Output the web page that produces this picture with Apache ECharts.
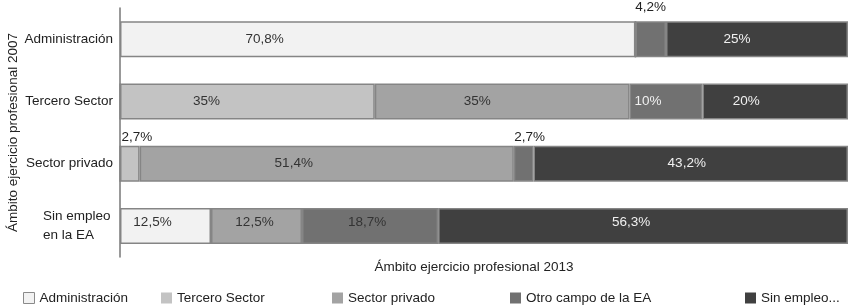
<!DOCTYPE html>
<html>
<head>
<meta charset="utf-8">
<script src="https://cdn.jsdelivr.net/npm/echarts@6/dist/echarts.min.js"></script>
<style>
  html, body { margin: 0; padding: 0; background: #fff; }
  #chart { width: 850px; height: 306px; }
</style>
</head>
<body>
<div id="chart"></div>
<script>
const FONT = '"Liberation Sans", Arial, sans-serif'
const FS = 13.5

// rows (ámbito 2007)
const categories = ['Administración', 'Tercero Sector', 'Sector privado', 'Sin empleo\nen la EA']
// segments (ámbito 2013)
const seriesNames = ['Administración', 'Tercero Sector', 'Sector privado', 'Otro campo de la EA', 'Sin empleo...']
const administracion = [70.8, 0, 0, 12.5]
const terceroSector = [0, 35, 2.7, 0]
const sectorPrivado = [0, 35, 51.4, 12.5]
const otroCampo = [4.2, 10, 2.7, 18.7]
const sinEmpleo = [25, 20, 43.2, 56.3]
const values = [administracion, terceroSector, sectorPrivado, otroCampo, sinEmpleo]

const COLORS = ['#f2f2f2', '#c3c3c3', '#a3a3a3', '#717171', '#404040']
const LABEL_COLORS = ['#333', '#333', '#333', '#333', '#f0f0f0']
const legendLeft = [23, 161, 332, 510, 745]

// label placement tweaks, [series][row] -> [dx, dy] or 'top:<distance>:<dx>'
const labelShift = [
  [[-113, 0], null, null, [-13, -4]],
  [null, [-41, 0], 'top:1:7', null],
  [null, [-25, 0], [-33, 0], [-2, -4]],
  ['top:7:0', [-18, 0], 'top:1:6', [-3, -4]],
  [[-20, 0], [-29, 0], [-4, 0], [-12, -4]]
]

const series = values.map((vals, s) => ({
  name: seriesNames[s],
  type: 'bar',
  stack: 'total',
  barWidth: 36,
  itemStyle: { color: COLORS[s], borderColor: '#858585', borderWidth: 1.5 },
  emphasis: { disabled: true },
  label: {
    show: true,
    position: 'inside',
    fontFamily: FONT,
    fontSize: FS,
    color: LABEL_COLORS[s],
    formatter: p => String(p.value).replace('.', ',') + '%'
  },
  data: vals.map((v, r) => {
    if (!v) return { value: v, label: { show: false } }
    const t = labelShift[s][r]
    if (typeof t === 'string') {
      const [, dist, dx] = t.split(':')
      return { value: v, label: { position: 'top', distance: +dist, offset: [+dx, 0], color: '#222' } }
    }
    // light text on the 10% segment
    const extra = (s === 3 && r === 1) ? { color: '#f0f0f0' } : {}
    if (t) return { value: v, label: Object.assign({ offset: t }, extra) }
    return v
  })
}))

const legends = seriesNames.map((n, i) => ({
  left: legendLeft[i],
  top: 291,
  padding: 0,
  itemWidth: 11,
  itemHeight: 11,
  itemGap: 0,
  icon: 'rect',
  selectedMode: false,
  textStyle: { fontFamily: FONT, fontSize: FS, color: '#222' },
  data: [{
    name: n,
    itemStyle: i === 0 ? { borderColor: '#8a8a8a', borderWidth: 1 } : { borderWidth: 0 }
  }]
}))

const chart = echarts.init(document.getElementById('chart'))
chart.setOption({
  animation: false,
  legend: legends,
  grid: { left: 120, right: 2, top: 8, bottom: 49, outerBoundsMode: 'none', containLabel: false },
  xAxis: {
    type: 'value',
    min: 0,
    max: 100,
    axisLine: { show: false },
    axisTick: { show: false },
    axisLabel: { show: false },
    splitLine: { show: false },
    name: 'Ámbito ejercicio profesional 2013',
    nameLocation: 'middle',
    nameGap: 3,
    nameTextStyle: { fontFamily: FONT, fontSize: FS, color: '#222', verticalAlign: 'top', padding: [0, 20, 0, 0] }
  },
  yAxis: {
    type: 'category',
    inverse: true,
    data: categories,
    axisLine: { show: true, lineStyle: { color: '#777', width: 1.5 } },
    axisTick: { show: false },
    axisLabel: {
      fontFamily: FONT,
      fontSize: FS,
      color: '#222',
      margin: 7,
      lineHeight: 19,
      formatter: v => v.includes('\n') ? '{l|' + v + '}' : v,
      rich: { l: { width: 70, align: 'left', fontFamily: FONT, fontSize: FS, color: '#222', lineHeight: 19 } }
    },
    name: 'Ámbito ejercicio profesional 2007',
    nameLocation: 'middle',
    nameGap: 100,
    nameMoveOverlap: false,
    nameRotate: 90,
    nameTextStyle: { fontFamily: FONT, fontSize: FS, color: '#222' }
  },
  series: series
})
</script>
</body>
</html>
